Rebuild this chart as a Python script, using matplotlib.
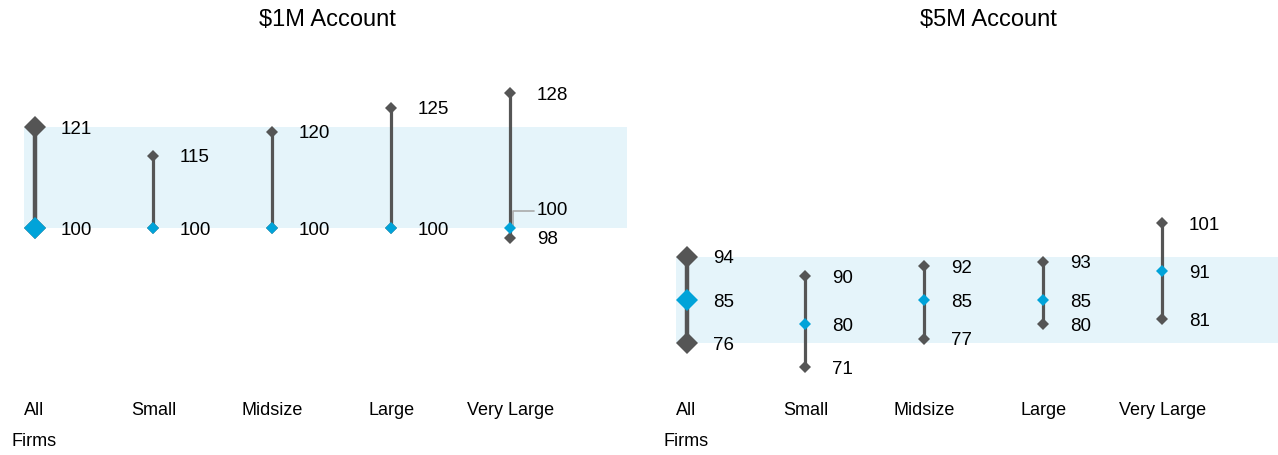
import matplotlib.pyplot as plt
import numpy as np

plt.rcParams['font.family'] = ['Liberation Sans', 'DejaVu Sans']

# Data
categories = ['All\nFirms', 'Small', 'Midsize', 'Large', 'Very Large']
titles = ['$1M Account', '$5M Account']
low_1m = [100, 100, 100, 100, 98]
high_1m = [121, 115, 120, 125, 128]
median_1m = [100, 100, 100, 100, 100]
low_5m = [76, 71, 77, 80, 81]
high_5m = [94, 90, 92, 93, 101]
median_5m = [85, 80, 85, 85, 91]

gray = '#555555'
blue = '#00A3D9'
band = '#E5F4FA'

fig = plt.figure(figsize=(12.78, 4.55), dpi=100)
ax1 = fig.add_axes([0.0, 0.165, 627 / 1278, 0.703])
ax2 = fig.add_axes([652 / 1278, 0.165, 627 / 1278, 0.703])

panels = [(ax1, low_1m, high_1m, median_1m, titles[0], 327),
          (ax2, low_5m, high_5m, median_5m, titles[1], 988)]

for ax, lo, hi, med, title, tx in panels:
    x = np.arange(len(categories))
    # shaded band spanning the All Firms range
    ax.fill_between([-0.085, 4.98], lo[0], hi[0], color=band, lw=0, zorder=0)
    for i in x:
        big = i == 0
        lw = 3.2 if big else 2.3
        ms = 11 if big else 6.5
        ax.plot([i, i], [lo[i], hi[i]], color=gray, lw=lw, zorder=2, solid_capstyle='butt')
        ax.plot([i, i], [lo[i], hi[i]], 'D', color=gray, ms=ms, mew=0, zorder=3)
        ax.plot(i, med[i], 'D', color=blue, ms=ms, mew=0, zorder=4)
        labels = {lo[i], hi[i]}
        for v in sorted(labels):
            ax.annotate(str(v), (i, v), xytext=(19, -1.5), textcoords='offset points',
                        ha='left', va='center', fontsize=13.5, color='black')
        if med[i] not in labels:
            if med[i] - lo[i] < 4:
                ax.annotate(str(med[i]), (i + 0.02, med[i] + 0.5), xytext=(17, 10.5),
                            textcoords='offset points', ha='left', va='center',
                            fontsize=13.5, color='black',
                            arrowprops=dict(arrowstyle='-', color='#aaaaaa', lw=1.2,
                                            shrinkA=0, shrinkB=0,
                                            connectionstyle='angle,angleA=0,angleB=90,rad=0'))
            else:
                ax.annotate(str(med[i]), (i, med[i]), xytext=(19, -1.5), textcoords='offset points',
                            ha='left', va='center', fontsize=13.5, color='black')
    ax.set_xlim(-0.29, 4.98)
    ax.set_ylim(68.4, 134.9)
    ax.set_xticks(x)
    ax.set_xticklabels(categories, fontsize=13, linespacing=2.05)
    ax.tick_params(axis='x', length=0, pad=16)
    ax.set_yticks([])
    for s in ax.spines.values():
        s.set_visible(False)
    ax.patch.set_alpha(0)
    fig.text(tx / 1278, 1 - 20 / 455, title.replace('$', r'\$'), ha='center', va='center', fontsize=17)

plt.savefig('out.png', dpi=100)
